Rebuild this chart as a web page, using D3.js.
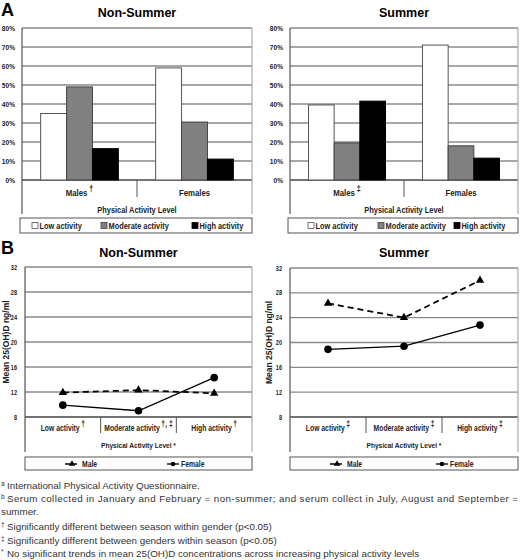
<!DOCTYPE html>
<html>
<head>
<meta charset="utf-8">
<script src="https://cdn.jsdelivr.net/npm/d3@7"></script>
<style>
  body { margin: 0; background: #fff; }
  svg { display: block; }
  .narrow { font-family: "Liberation Sans", Arial, sans-serif; font-weight: bold; }
  .title { font-family: "Liberation Sans", Arial, sans-serif; font-weight: bold; }
  .note { font-family: "Liberation Sans", Arial, sans-serif; fill: #333; }
</style>
</head>
<body>
<svg id="chart" width="520" height="560"></svg>
<script>
// ---- data ----
var genders = ["Males", "Females"];
var genderMarksNonSummer = ["\u2020", ""];
var genderMarksSummer = ["\u2021", ""];
var activities = ["Low activity", "Moderate activity", "High activity"];
var pctNonSummer = [[35, 49, 16.5], [59, 30.5, 11]];
var pctSummer = [[39.5, 19.5, 41.5], [71, 18, 11.5]];
var pctTicks = [0, 10, 20, 30, 40, 50, 60, 70, 80];

var activityMarksNonSummer = ["\u2020", "\u2020, \u2021", "\u2020"];
var activityMarksSummer = ["\u2021", "\u2021", "\u2021"];
var maleNonSummer = [11.9, 12.3, 11.8];
var femaleNonSummer = [9.9, 9.0, 14.3];
var maleSummer = [26.3, 24.0, 30.0];
var femaleSummer = [18.9, 19.4, 22.8];
var vitDTicks = [8, 12, 16, 20, 24, 28, 32];

var footnotes = [
  ["a", "International Physical Activity Questionnaire."],
  ["b", "Serum collected in January and February = non-summer; and serum collect in July, August and September ="],
  ["", "summer."],
  ["\u2020", "Significantly different between season within gender (p<0.05)"],
  ["\u2021", "Significantly different between genders within season (p<0.05)"],
  ["*", "No significant trends in mean 25(OH)D concentrations across increasing physical activity levels"]
];

var barFills = ["#ffffff", "#808080", "#000000"];
var barStrokes = ["#555", "#444", "#000"];

var svg = d3.select("#chart");

// the original labels use a narrow bold face; squeeze Liberation Sans to match
function squeeze(sel, f) {
  sel.each(function() {
    var len = this.getComputedTextLength();
    d3.select(this).attr("textLength", len * (f || 0.8)).attr("lengthAdjust", "spacingAndGlyphs");
  });
}

// label with a raised footnote mark, in a horizontally squeezed group
function addLabel(g, cxPos, yPos, text, mark, size, supSize, f) {
  var lg = g.append("g").attr("transform", "translate(" + cxPos + "," + yPos + ") scale(" + f + ",1)");
  var t = lg.append("text").attr("class", "narrow")
    .style("font-size", size + "px").attr("fill", "#222").text(text);
  var w = t.node().getComputedTextLength();
  var m = null, mw = 0, gap = 2;
  if (mark) {
    m = lg.append("text").attr("class", "narrow").attr("y", -4)
      .style("font-size", supSize + "px").attr("fill", "#222").text(mark);
    mw = m.node().getComputedTextLength() + gap;
  }
  var x0 = -(w + mw) / 2;
  t.attr("x", x0);
  if (m) m.attr("x", x0 + w + gap);
}

function drawBars(cfg) {
  var g = svg.append("g");
  var y = d3.scaleLinear().domain([0, 80]).range([cfg.bottom, cfg.top]);
  var x0 = d3.scaleBand().domain(genders).range([cfg.left, cfg.right]);
  var x1 = d3.scaleBand().domain(activities).range([0, x0.bandwidth()]).paddingInner(0).paddingOuter(0.72);

  g.append("text").attr("class", "title").attr("x", (cfg.left + cfg.right) / 2).attr("y", 17)
    .attr("text-anchor", "middle").style("font-size", "12.5px").text(cfg.title);

  // gridlines
  g.selectAll(".grid").data(pctTicks).enter().append("line")
    .attr("x1", cfg.left).attr("x2", cfg.right)
    .attr("y1", function(d) { return y(d); }).attr("y2", function(d) { return y(d); })
    .style("stroke", function(d) { return d === 0 ? "#444" : "#8a8a8a"; })
    .style("stroke-width", 1.3);

  // right border + left axis extending into label box
  g.append("line").attr("x1", cfg.right).attr("x2", cfg.right).attr("y1", cfg.top).attr("y2", cfg.boxBottom)
    .style("stroke", "#aaa").style("stroke-width", 1.2);

  var yAxis = g.append("g").attr("class", "narrow").attr("transform", "translate(" + cfg.left + ",0)")
    .call(d3.axisLeft(y).tickValues(pctTicks).tickSize(0).tickPadding(7).tickFormat(function(d) { return d + "%"; }));
  yAxis.select(".domain").remove();
  yAxis.selectAll("text").style("font-size", "8px").attr("fill", "#222").call(squeeze, 0.82);
  g.append("line").attr("x1", cfg.left).attr("x2", cfg.left).attr("y1", cfg.top).attr("y2", cfg.boxBottom)
    .style("stroke", "#555").style("stroke-width", 1.2);

  // category divider
  genders.slice(1).forEach(function(d) {
    g.append("line").attr("x1", x0(d)).attr("x2", x0(d)).attr("y1", cfg.bottom).attr("y2", cfg.bottom + 17)
      .style("stroke", "#555").style("stroke-width", 1);
  });

  // bars
  var groups = g.selectAll(".grp").data(cfg.values).enter().append("g")
    .attr("transform", function(d, i) { return "translate(" + x0(genders[i]) + ",0)"; });
  groups.selectAll("rect").data(function(d) { return d; }).enter().append("rect")
    .attr("x", function(d, i) { return x1(activities[i]); })
    .attr("width", x1.bandwidth())
    .attr("y", function(d) { return y(d); })
    .attr("height", function(d) { return y(0) - y(d); })
    .style("fill", function(d, i) { return barFills[i]; })
    .style("stroke", function(d, i) { return barStrokes[i]; })
    .style("stroke-width", 1);

  // category labels
  genders.forEach(function(d, i) {
    addLabel(g, x0(d) + x0.bandwidth() / 2, cfg.bottom + 16, d, cfg.marks[i], 9.5, 9.5, 0.82);
  });
  g.append("text").attr("class", "narrow").attr("x", (cfg.left + cfg.right) / 2).attr("y", cfg.bottom + 33)
    .attr("text-anchor", "middle").style("font-size", "9px").attr("fill", "#222").text("Physical Activity Level")
    .call(squeeze, 0.82);

  // legend
  var ly = cfg.boxBottom + 4;
  g.append("rect").attr("x", cfg.left - 2).attr("y", ly).attr("width", cfg.right - cfg.left + 2).attr("height", 15)
    .style("fill", "#fff").style("stroke", "#555").style("stroke-width", 1);
  activities.forEach(function(a, i) {
    var lx = cfg.legendX[i];
    g.append("rect").attr("x", lx).attr("y", ly + 4.5).attr("width", 6).attr("height", 6)
      .style("fill", barFills[i]).style("stroke", barStrokes[i]).style("stroke-width", 0.8);
    g.append("text").attr("class", "narrow").attr("x", lx + 7.5).attr("y", ly + 11)
      .style("font-size", "9px").attr("fill", "#222").text(a).call(squeeze, 0.82);
  });
}

function drawLines(cfg) {
  var g = svg.append("g");
  var y = d3.scaleLinear().domain([8, 32]).range([cfg.bottom, cfg.top]);
  var x = d3.scaleBand().domain(activities).range([cfg.left, cfg.right]);
  var cx = function(d, i) { return x(activities[i]) + x.bandwidth() / 2; };

  g.append("text").attr("class", "title").attr("x", (cfg.left + cfg.right) / 2).attr("y", 257)
    .attr("text-anchor", "middle").style("font-size", "12.5px").text(cfg.title);

  g.selectAll(".grid").data(vitDTicks).enter().append("line")
    .attr("x1", cfg.left).attr("x2", cfg.right)
    .attr("y1", function(d) { return y(d); }).attr("y2", function(d) { return y(d); })
    .style("stroke", function(d) { return d === 8 ? "#444" : "#8a8a8a"; })
    .style("stroke-width", 1.3);

  g.append("line").attr("x1", cfg.right).attr("x2", cfg.right).attr("y1", cfg.top).attr("y2", cfg.boxBottom)
    .style("stroke", "#aaa").style("stroke-width", 1.2);

  var yAxis = g.append("g").attr("class", "narrow").attr("transform", "translate(" + cfg.left + ",0)")
    .call(d3.axisLeft(y).tickValues(vitDTicks).tickSize(0).tickPadding(8));
  yAxis.select(".domain").remove();
  yAxis.selectAll("text").style("font-size", "6.5px").attr("fill", "#222").call(squeeze, 0.85);
  g.append("line").attr("x1", cfg.left).attr("x2", cfg.left).attr("y1", cfg.top).attr("y2", cfg.boxBottom)
    .style("stroke", "#555").style("stroke-width", 1.2);

  g.append("text").attr("class", "title")
    .attr("transform", "translate(" + cfg.yTitleX + "," + ((cfg.top + cfg.bottom) / 2) + ") rotate(-90)")
    .attr("text-anchor", "middle").style("font-size", "8.5px").attr("fill", "#222").text("Mean 25(OH)D ng/ml");

  activities.slice(1).forEach(function(a) {
    g.append("line").attr("x1", x(a)).attr("x2", x(a)).attr("y1", cfg.bottom).attr("y2", cfg.bottom + 16)
      .style("stroke", "#555").style("stroke-width", 1);
  });

  activities.forEach(function(a, i) {
    addLabel(g, x(a) + x.bandwidth() / 2, cfg.bottom + 14, a, cfg.marks[i], 8.5, 8.5, 0.8);
  });
  g.append("text").attr("class", "narrow").attr("x", (cfg.left + cfg.right) / 2).attr("y", cfg.bottom + 31)
    .attr("text-anchor", "middle").style("font-size", "8px").attr("fill", "#222").text("Physical Activity Level *")
    .call(squeeze, 0.82);

  var line = d3.line().x(cx).y(function(d) { return y(d); });
  g.append("path").datum(cfg.male).attr("d", line)
    .style("fill", "none").style("stroke", "#000").style("stroke-width", 1.8).style("stroke-dasharray", "6,4");
  g.append("path").datum(cfg.female).attr("d", line)
    .style("fill", "none").style("stroke", "#000").style("stroke-width", 1.3);

  var tri = d3.symbol().type(d3.symbolTriangle).size(30);
  g.selectAll(".tri").data(cfg.male).enter().append("path")
    .attr("d", tri)
    .attr("transform", function(d, i) { return "translate(" + cx(d, i) + "," + y(d) + ")"; })
    .style("fill", "#000");
  g.selectAll(".dot").data(cfg.female).enter().append("circle")
    .attr("cx", cx).attr("cy", function(d) { return y(d); }).attr("r", 3.8)
    .style("fill", "#000");

  // legend
  var ly = cfg.boxBottom + 5;
  g.append("rect").attr("x", cfg.left).attr("y", ly).attr("width", cfg.right - cfg.left).attr("height", 13)
    .style("fill", "#fff").style("stroke", "#555").style("stroke-width", 1);
  var my = ly + 7;
  var mx = cfg.legendX[0];
  g.append("line").attr("x1", mx).attr("x2", mx + 14).attr("y1", my).attr("y2", my)
    .style("stroke", "#000").style("stroke-width", 1.5).style("stroke-dasharray", "5,2");
  g.append("path").attr("d", d3.symbol().type(d3.symbolTriangle).size(18)).attr("transform", "translate(" + (mx + 7) + "," + my + ")");
  g.append("text").attr("class", "narrow").attr("x", mx + 17).attr("y", my + 3).style("font-size", "8.5px").attr("fill", "#222")
    .text("Male").call(squeeze, 0.8);
  var fx = cfg.legendX[1];
  g.append("line").attr("x1", fx).attr("x2", fx + 12).attr("y1", my).attr("y2", my)
    .style("stroke", "#000").style("stroke-width", 1.3);
  g.append("circle").attr("cx", fx + 6).attr("cy", my).attr("r", 2.3).style("fill", "#000");
  g.append("text").attr("class", "narrow").attr("x", fx + 14).attr("y", my + 3).style("font-size", "8.5px").attr("fill", "#222")
    .text("Female").call(squeeze, 0.8);
}

svg.append("text").attr("class", "title").attr("x", 1).attr("y", 16).style("font-size", "18px").text("A");
svg.append("text").attr("class", "title").attr("x", 1).attr("y", 254).style("font-size", "18px").text("B");

drawBars({ title: "Non-Summer", left: 22, right: 252, top: 28, bottom: 180, boxBottom: 214,
  values: pctNonSummer, marks: genderMarksNonSummer, legendX: [32, 101, 192] });
drawBars({ title: "Summer", left: 290, right: 518, top: 28, bottom: 180, boxBottom: 214,
  values: pctSummer, marks: genderMarksSummer, legendX: [308, 378, 454] });

drawLines({ title: "Non-Summer", left: 25, right: 252, top: 267, bottom: 417, boxBottom: 452, yTitleX: 9,
  male: maleNonSummer, female: femaleNonSummer, marks: activityMarksNonSummer, legendX: [65, 167] });
drawLines({ title: "Summer", left: 290, right: 518, top: 268, bottom: 417, boxBottom: 452, yTitleX: 272,
  male: maleSummer, female: femaleSummer, marks: activityMarksSummer, legendX: [330, 436] });

// footnotes
var noteY = [489, 502, 515, 530, 544, 557];
footnotes.forEach(function(f, i) {
  if (f[0]) {
    svg.append("text").attr("class", "note").attr("x", 1).attr("y", noteY[i] - 3).style("font-size", "6.5px").text(f[0]);
  }
  var t = svg.append("text").attr("class", "note").attr("x", f[0] ? 7 : 1).attr("y", noteY[i])
    .style("font-size", "9.8px").text(f[1]);
  if (i === 1) t.attr("textLength", 511).attr("lengthAdjust", "spacing");
});
</script>
</body>
</html>
